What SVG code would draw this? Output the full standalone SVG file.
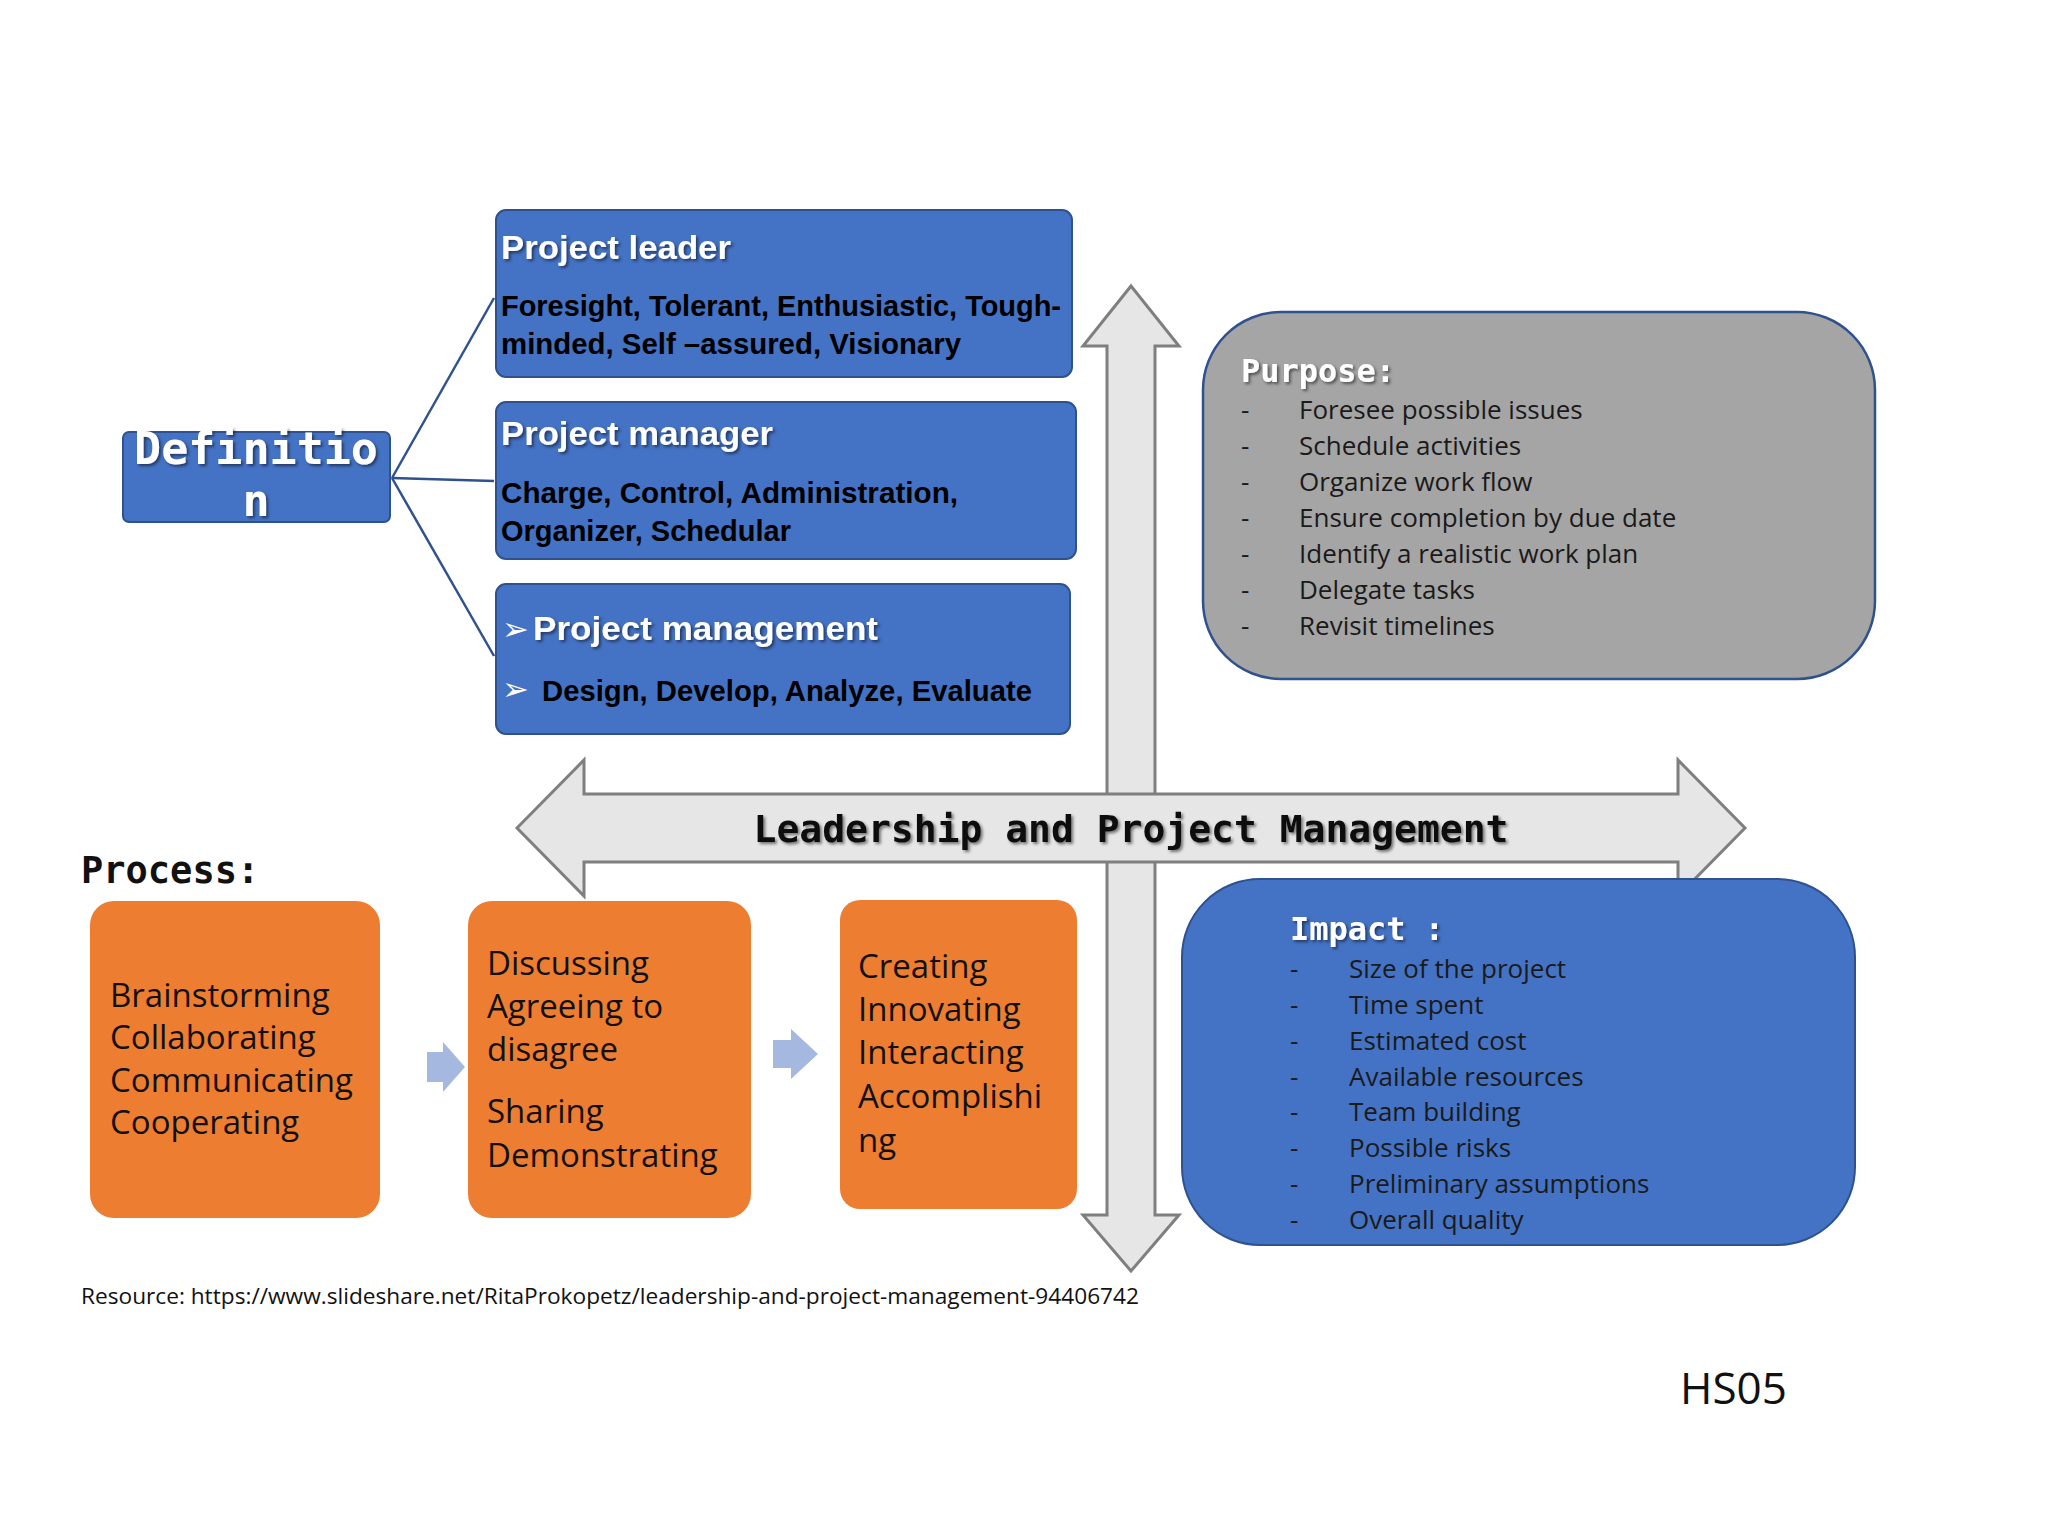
<svg xmlns="http://www.w3.org/2000/svg" width="2048" height="1536" viewBox="0 0 2048 1536">
<defs>
<style>
.blue{fill:#4472C4;stroke:#2F528F;stroke-width:2}
.orange{fill:#ED7D31}
.t{font-family:"Liberation Sans",Arial,sans-serif;font-weight:bold}
.w{fill:#fff}
.k{fill:#000}
.mono{font-family:"DejaVu Sans Mono","Liberation Mono",monospace;font-weight:bold}
.li{font-family:"Open Sans","Noto Sans",sans-serif;font-size:26px;fill:#1a1a1a}
.pr{font-family:"Open Sans","Noto Sans",sans-serif;font-size:33px;fill:#111}
.arr{fill:#E7E6E6;stroke:#7F7F7F;stroke-width:3}
</style>
<filter id="sh"><feDropShadow dx="2" dy="2" stdDeviation="1.5" flood-opacity="0.5"/></filter>
</defs>
<rect width="2048" height="1536" fill="#fff"/>

<g id="vertical-arrow">
<polygon class="arr" points="1131,286 1179,346 1155,346 1155,1215 1179,1215 1131,1271 1083,1215 1107,1215 1107,346 1083,346"/>
</g>
<g id="horizontal-arrow">
<polygon class="arr" points="517,828 584,760 584,794 1678,794 1678,760 1745,828 1678,896 1678,862 584,862 584,896"/>
<text class="mono" x="1131" y="842" font-size="38" text-anchor="middle" fill="#111" filter="url(#sh)">Leadership and Project Management</text>
</g>

<g id="connectors" stroke="#2F528F" stroke-width="2.5" fill="none">
<line x1="392" y1="478" x2="494" y2="298"/>
<line x1="392" y1="478" x2="494" y2="481"/>
<line x1="392" y1="478" x2="494" y2="656"/>
<polygon fill="#A4B8E0" stroke="none" points="427,1052 443,1052 443,1042 465,1067 443,1092 443,1082 427,1082"/>
<polygon fill="#A4B8E0" stroke="none" points="773,1040 791,1040 791,1029 818,1054 791,1079 791,1068 773,1068"/>
</g>

<g id="definition">
<rect class="blue" x="123" y="432" width="267" height="90" rx="6"/>
<text class="mono w" font-size="45" text-anchor="middle" filter="url(#sh)"><tspan x="256" y="464">Definitio</tspan><tspan x="256" y="516">n</tspan></text>
</g>

<g id="project-leader">
<rect class="blue" x="496" y="210" width="576" height="167" rx="10"/>
<text class="t w" x="501" y="259" font-size="33" textLength="230" lengthAdjust="spacingAndGlyphs" filter="url(#sh)">Project leader</text>
<text class="t k" x="501" y="316" font-size="30" textLength="560" lengthAdjust="spacingAndGlyphs">Foresight, Tolerant, Enthusiastic, Tough-</text>
<text class="t k" x="501" y="354" font-size="30" textLength="460" lengthAdjust="spacingAndGlyphs">minded, Self –assured, Visionary</text>
</g>

<g id="project-manager">
<rect class="blue" x="496" y="402" width="580" height="157" rx="10"/>
<text class="t w" x="501" y="445" font-size="33" textLength="272" lengthAdjust="spacingAndGlyphs" filter="url(#sh)">Project manager</text>
<text class="t k" x="501" y="503" font-size="30" textLength="457" lengthAdjust="spacingAndGlyphs">Charge, Control, Administration,</text>
<text class="t k" x="501" y="541" font-size="30" textLength="290" lengthAdjust="spacingAndGlyphs">Organizer, Schedular</text>
</g>

<g id="project-management">
<rect class="blue" x="496" y="584" width="574" height="150" rx="10"/>
<text class="w" x="502" y="640" font-size="32" font-family="DejaVu Sans,sans-serif">➢</text>
<text class="t w" x="533" y="640" font-size="33" textLength="345" lengthAdjust="spacingAndGlyphs" filter="url(#sh)">Project management</text>
<text class="w" x="502" y="700" font-size="32" font-family="DejaVu Sans,sans-serif">➢</text>
<text class="t k" x="542" y="701" font-size="30" textLength="490" lengthAdjust="spacingAndGlyphs">Design, Develop, Analyze, Evaluate</text>
</g>

<g id="purpose">
<rect x="1203" y="312" width="672" height="367" rx="78" fill="#A5A5A5" stroke="#2F528F" stroke-width="2.5"/>
<text class="mono w" x="1241" y="382" font-size="32" filter="url(#sh)">Purpose:</text>
<g class="li">
<text x="1241" y="419">-</text><text x="1299" y="419">Foresee possible issues</text>
<text x="1241" y="455">-</text><text x="1299" y="455">Schedule activities</text>
<text x="1241" y="491">-</text><text x="1299" y="491">Organize work flow</text>
<text x="1241" y="527">-</text><text x="1299" y="527">Ensure completion by due date</text>
<text x="1241" y="563">-</text><text x="1299" y="563">Identify a realistic work plan</text>
<text x="1241" y="599">-</text><text x="1299" y="599">Delegate tasks</text>
<text x="1241" y="635">-</text><text x="1299" y="635">Revisit timelines</text>
</g>
</g>

<g id="impact">
<rect class="blue" x="1182" y="879" width="673" height="366" rx="78" stroke-width="2.5"/>
<text class="mono w" x="1290" y="940" font-size="32" filter="url(#sh)">Impact :</text>
<g class="li">
<text x="1290" y="978">-</text><text x="1349" y="978">Size of the project</text>
<text x="1290" y="1014">-</text><text x="1349" y="1014">Time spent</text>
<text x="1290" y="1050">-</text><text x="1349" y="1050">Estimated cost</text>
<text x="1290" y="1086">-</text><text x="1349" y="1086">Available resources</text>
<text x="1290" y="1121">-</text><text x="1349" y="1121">Team building</text>
<text x="1290" y="1157">-</text><text x="1349" y="1157">Possible risks</text>
<text x="1290" y="1193">-</text><text x="1349" y="1193">Preliminary assumptions</text>
<text x="1290" y="1229">-</text><text x="1349" y="1229">Overall quality</text>
</g>
</g>

<g id="process-label">
<text class="mono" x="81" y="883" font-size="37" fill="#111">Process:</text>
</g>

<g id="process-1">
<rect class="orange" x="90" y="901" width="290" height="317" rx="24"/>
<g class="pr"><text x="110" y="1007">Brainstorming</text><text x="110" y="1049">Collaborating</text><text x="110" y="1092">Communicating</text><text x="110" y="1134">Cooperating</text></g>
</g>
<g id="process-2">
<rect class="orange" x="468" y="901" width="283" height="317" rx="24"/>
<g class="pr"><text x="487" y="975">Discussing</text><text x="487" y="1018">Agreeing to</text><text x="487" y="1061">disagree</text><text x="487" y="1123">Sharing</text><text x="487" y="1167">Demonstrating</text></g>
</g>
<g id="process-3">
<rect class="orange" x="840" y="900" width="237" height="309" rx="20"/>
<g class="pr"><text x="858" y="978">Creating</text><text x="858" y="1021">Innovating</text><text x="858" y="1064">Interacting</text><text x="858" y="1108">Accomplishi</text><text x="858" y="1152">ng</text></g>
</g>

<g id="footer">
<text x="81" y="1304" font-family="'Open Sans','Noto Sans',sans-serif" font-size="22" textLength="1058" lengthAdjust="spacingAndGlyphs" fill="#111">Resource: https://www.slideshare.net/RitaProkopetz/leadership-and-project-management-94406742</text>
<text x="1680" y="1404" font-family="'Open Sans','Noto Sans',sans-serif" font-size="44" fill="#111">HS05</text>
</g>
</svg>
